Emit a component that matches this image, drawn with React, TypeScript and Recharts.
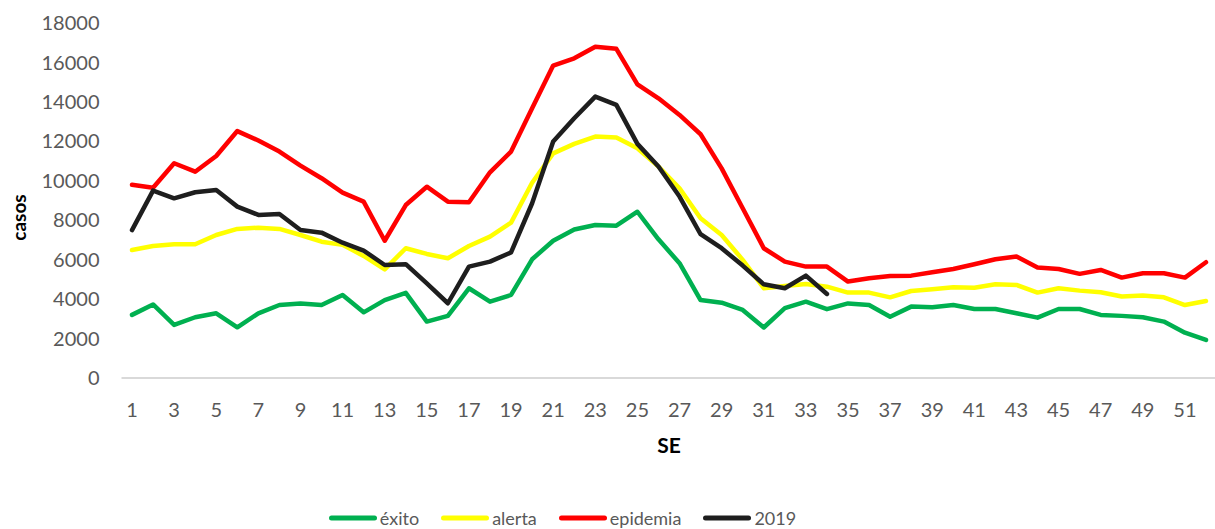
import React from "react";
import { LineChart, Line, XAxis, YAxis, Legend, Label } from "recharts";

const weeks = [
  1, 2, 3, 4, 5, 6, 7, 8, 9, 10, 11, 12, 13, 14, 15, 16, 17, 18, 19, 20, 21, 22, 23, 24, 25, 26,
  27, 28, 29, 30, 31, 32, 33, 34, 35, 36, 37, 38, 39, 40, 41, 42, 43, 44, 45, 46, 47, 48, 49, 50, 51, 52,
];

const exito = [
  3200, 3730, 2690, 3080, 3280, 2570, 3280, 3700, 3780, 3700, 4210, 3330, 3950, 4320, 2860, 3150, 4550, 3870,
  4210, 6020, 6960, 7530, 7760, 7720, 8430, 7030, 5820, 3950, 3820, 3450, 2560, 3540, 3870, 3490, 3780, 3700,
  3110, 3620, 3590, 3700, 3500, 3500, 3280, 3060, 3500, 3500, 3200, 3150, 3080, 2860, 2300, 1930,
];

const alerta = [
  6490, 6690, 6780, 6780, 7250, 7560, 7620, 7560, 7250, 6910, 6750, 6190, 5510, 6580, 6290, 6070, 6690, 7170,
  7880, 9900, 11390, 11870, 12240, 12200, 11650, 10720, 9620, 8100, 7250, 5990, 4550, 4670, 4770, 4630, 4330, 4330,
  4090, 4410, 4500, 4600, 4580, 4750, 4720, 4330, 4550, 4430, 4350, 4130, 4180, 4090, 3700, 3900,
];

const epidemia = [
  9800, 9650, 10890, 10460, 11260, 12520, 12040, 11480, 10770, 10130, 9400, 8940, 6960, 8770, 9700, 8940, 8910, 10430,
  11480, 13680, 15840, 16210, 16800, 16690, 14890, 14180, 13340, 12360, 10630, 8610, 6580, 5900, 5650, 5650, 4890, 5060,
  5170, 5190, 5360, 5530, 5770, 6020, 6160, 5600, 5530, 5280, 5480, 5090, 5310, 5310, 5090, 5870,
];

const y2019 = [
  7500, 9500, 9110, 9420, 9530, 8690, 8270, 8320, 7500, 7370, 6860, 6460, 5730, 5770, 4800, 3790, 5650, 5900,
  6370, 8860, 11990, 13170, 14270, 13850, 11870, 10720, 9200, 7290, 6580, 5700, 4750, 4550, 5190, 4260,
];

const yTicks = [0, 2000, 4000, 6000, 8000, 10000, 12000, 14000, 16000, 18000];

const seriesNames = ["éxito", "alerta", "epidemia", "2019"];
const seriesColors = ["#00B050", "#FFFF00", "#FF0000", "#1E1E1E"];

const data = weeks.map((w, i) => ({
  se: w,
  exito: exito[i],
  alerta: alerta[i],
  epidemia: epidemia[i],
  y2019: i < y2019.length ? y2019[i] : null,
}));

const FONT = "Lato, 'Open Sans', sans-serif";
const GREY = "#595959";

const LegendContent = () => (
  <div
    style={{
      display: "flex",
      justifyContent: "center",
      alignItems: "center",
      height: 22,
      fontFamily: FONT,
      fontSize: 18,
      color: GREY,
    }}
  >
    {seriesNames.map((n, i) => (
      <div key={n} style={{ display: "flex", alignItems: "center", marginRight: i < seriesNames.length - 1 ? 22 : 0 }}>
        <svg width={48} height={8} style={{ marginRight: 3 }}>
          <line x1={2.5} y1={4} x2={45.5} y2={4} stroke={seriesColors[i]} strokeWidth={5} strokeLinecap="round" />
        </svg>
        <span>{n}</span>
      </div>
    ))}
  </div>
);

const YTitle = (props: any) => {
  const vb = props.viewBox || {};
  const cx = 18;
  const cy = vb.y + vb.height / 2 + 17;
  return (
    <text
      x={cx}
      y={cy}
      transform={`rotate(-90, ${cx}, ${cy})`}
      textAnchor="middle"
      dominantBaseline="central"
      style={{ fontFamily: FONT, fontSize: 19, fontWeight: 700, fill: "#000" }}
    >
      casos
    </text>
  );
};

export default function App() {
  return (
    <div style={{ position: "absolute", left: 0, top: 0, width: 1215, height: 529, overflow: "hidden", background: "#fff" }}>
      <LineChart
        width={1225}
        height={529}
        data={data}
        margin={{ top: 23, right: 8.5, bottom: 0, left: 0 }}
      >
        <XAxis
          dataKey="se"
          interval={1}
          padding={{ left: 10.5, right: 10.5 }}
          tickLine={false}
          tickSize={0}
          tickMargin={25}
          height={129}
          axisLine={{ stroke: "#D9D9D9", strokeWidth: 2 }}
          tick={{ fill: GREY, fontSize: 20, fontFamily: FONT }}
        >
          <Label
            value="SE"
            position="insideTop"
            offset={60}
            style={{ fontFamily: FONT, fontSize: 21, fontWeight: 700, fill: "#000" }}
          />
        </XAxis>
        <YAxis
          width={121.5}
          domain={[0, 18000]}
          ticks={yTicks}
          interval={0}
          axisLine={false}
          tickLine={false}
          tickSize={0}
          tickMargin={22}
          tick={{ fill: GREY, fontSize: 20, fontFamily: FONT }}
        >
          <Label content={YTitle} />
        </YAxis>
        <Legend
          verticalAlign="bottom"
          align="center"
          height={22}
          wrapperStyle={{ left: 0, width: 1125 }}
          content={LegendContent}
        />
        <Line type="linear" dataKey="exito" name="éxito" stroke={seriesColors[0]} strokeWidth={4.5} dot={false} strokeLinejoin="round" strokeLinecap="round" isAnimationActive={false} />
        <Line type="linear" dataKey="alerta" name="alerta" stroke={seriesColors[1]} strokeWidth={4.5} dot={false} strokeLinejoin="round" strokeLinecap="round" isAnimationActive={false} />
        <Line type="linear" dataKey="epidemia" name="epidemia" stroke={seriesColors[2]} strokeWidth={4.5} dot={false} strokeLinejoin="round" strokeLinecap="round" isAnimationActive={false} />
        <Line type="linear" dataKey="y2019" name="2019" stroke={seriesColors[3]} strokeWidth={4.5} dot={false} strokeLinejoin="round" strokeLinecap="round" isAnimationActive={false} />
      </LineChart>
    </div>
  );
}
